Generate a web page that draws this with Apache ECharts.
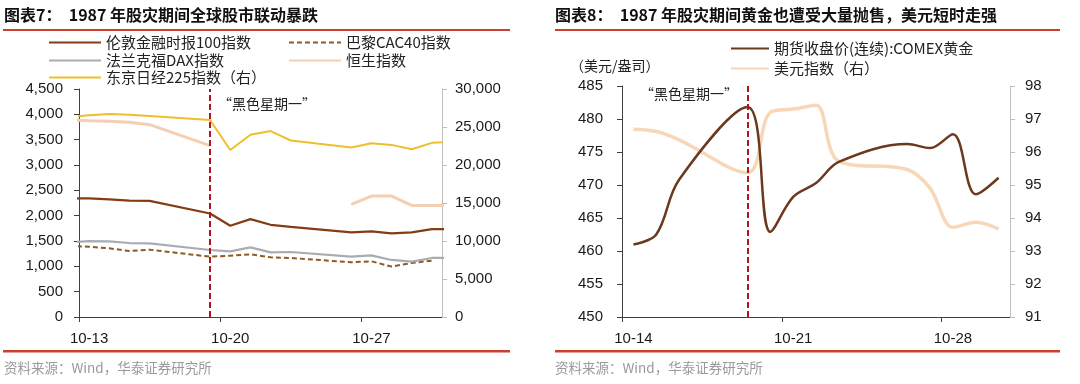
<!DOCTYPE html>
<html>
<head>
<meta charset="utf-8">
<script src="https://cdn.jsdelivr.net/npm/echarts@6/dist/echarts.min.js"></script>
<style>
html,body{margin:0;padding:0;background:#fff;}
#c{width:1080px;height:384px;}
</style>
</head>
<body>
<div id="c"></div>
<script>
// ---------- Data: chart 7 (global stock indices) ----------
const dates7 = ['10-12','10-13','10-14','10-15','10-16','10-19','10-20','10-21','10-22','10-23','10-26','10-27','10-28','10-29','10-30','11-02'];
const ftse100 = [2343, 2343, 2323, 2297, 2291, 2042, 1800, 1931, 1820, 1780, 1669, 1689, 1649, 1669, 1734, 1734];
const cac40   = [1400, 1388, 1355, 1302, 1329, 1191, 1211, 1237, 1178, 1165, 1080, 1100, 995, 1067, 1113, null];
const dax     = [1473, 1499, 1492, 1460, 1453, 1322, 1296, 1374, 1276, 1283, 1191, 1217, 1126, 1093, 1165, 1165];
const hangSeng= [3889, 3875, 3862, 3842, 3796, 3384, null, null, null, null, 2221, 2387, 2387, 2201, 2201, 2201];
const nikkei  = [26279, 26545, 26722, 26610, 26456, 25924, 21982, 23975, 24463, 23222, 22292, 22868, 22646, 22070, 22912, 23300];
const xLabels7 = ['10-13','10-20','10-27'];
const xRange7 = ['10-13','10-30'];

// ---------- Data: chart 8 (gold & USD index) ----------
const dates8 = ['10-14','10-15','10-16','10-19','10-20','10-21','10-22','10-23','10-26','10-27','10-28','10-29','10-30'];
const goldFutures = [461.0, 462.5, 470.8, 481.8, 462.9, 468.2, 470.3, 473.5, 476.2, 475.6, 477.7, 468.6, 471.1];
const usdIndex    = [96.69, 96.62, 96.37, 95.37, 97.2, 97.3, 97.42, 95.72, 95.47, 94.9, 93.72, 93.87, 93.67];
const xLabels8 = ['10-14','10-21','10-28'];
const xRange8 = ['10-14','10-30'];

const blackMonday = '10-19';

// names
const N = {
  ftse: '伦敦金融时报100指数', cac: '巴黎CAC40指数', dax: '法兰克福DAX指数',
  hsi: '恒生指数', nk: '东京日经225指数（右）',
  gold: '期货收盘价(连续):COMEX黄金', usd: '美元指数（右）'
};

// day number (October-based) from "MM-DD"
function dayNum(s){ const p = s.split('-'); return (+p[0] - 10) * 31 + (+p[1]); }
function pairs(dates, vals){ return dates.map((d,i)=>[dayNum(d), vals[i]]); }
function thousands(v){ return String(v).replace(/\B(?=(\d{3})+(?!\d))/g, ','); }

const CJK = 'Noto Sans CJK SC';
const LAT = 'Liberation Sans';
const axisDark = '#404040';
const axisLight = '#BFBFBF';
const red = '#C8412F';
const markRed = '#B0161E';

function labelMap(list){ const m = {}; list.forEach(l => m[dayNum(l)] = l); return m; }
const lm7 = labelMap(xLabels7), lm8 = labelMap(xLabels8);

function xAxisDef(grid, range, labels, lm){
  return {
    type: 'value', gridIndex: grid,
    min: dayNum(range[0]) - 0.5, max: dayNum(range[1]) + 0.5,
    axisLine: { show: true, onZero: false, lineStyle: { color: axisDark, width: 1 } },
    axisTick: { show: true, length: 5, lineStyle: { color: axisDark }, customValues: labels.map(l => dayNum(l) - 0.5) },
    axisLabel: { customValues: labels.map(dayNum), formatter: v => lm[v] || '', margin: 14,
      fontFamily: LAT, fontSize: 15, color: '#1a1a1a' },
    splitLine: { show: false }
  };
}
function yAxisDef(grid, pos, min, max, interval, lineColor, margin, fmt){
  return {
    type: 'value', gridIndex: grid, position: pos, min, max, interval,
    axisLine: { show: true, lineStyle: { color: lineColor, width: 1 } },
    axisTick: { show: true, length: 5, lineStyle: { color: lineColor } },
    axisLabel: { margin, fontFamily: LAT, fontSize: 15, color: '#1a1a1a', formatter: fmt },
    splitLine: { show: false }
  };
}
function legendAt(name, left, top, w){
  return { data: [name], left, top, padding: 0, itemWidth: w, itemHeight: 14,
    itemStyle: { opacity: 0, borderWidth: 0 },
    textStyle: { fontFamily: CJK, fontSize: 15, color: '#222' }, selectedMode: false };
}
function markLine(){
  return { silent: true, symbol: 'none', animation: false,
    lineStyle: { type: [6, 3], color: markRed, width: 2 },
    label: { show: false }, data: [{ xAxis: dayNum(blackMonday) }] };
}

const option = {
  animation: false,
  backgroundColor: '#ffffff',
  title: [
    { text: '图表7：  1987 年股灾期间全球股市联动暴跌', left: 4, top: 7, padding: 0,
      textStyle: { fontFamily: CJK, fontSize: 16, fontWeight: 'bold', color: '#111' } },
    { text: '图表8：  1987 年股灾期间黄金也遭受大量抛售，美元短时走强', left: 555, top: 7, padding: 0,
      textStyle: { fontFamily: CJK, fontSize: 16, fontWeight: 'bold', color: '#111' } },
    { text: '资料来源：Wind，华泰证券研究所', left: 4, top: 361, padding: 0,
      textStyle: { fontFamily: CJK, fontSize: 13.5, fontWeight: 'normal', color: '#9a9a9a' } },
    { text: '资料来源：Wind，华泰证券研究所', left: 555, top: 361, padding: 0,
      textStyle: { fontFamily: CJK, fontSize: 13.5, fontWeight: 'normal', color: '#9a9a9a' } }
  ],
  legend: [
    legendAt(N.ftse, 48, 35, 52),
    legendAt(N.cac, 288, 35, 52),
    legendAt(N.dax, 48, 53, 52),
    legendAt(N.hsi, 288, 53, 52),
    legendAt(N.nk, 48, 70, 52),
    legendAt(N.gold, 730, 41, 38),
    legendAt(N.usd, 730, 61, 38)
  ],
  grid: [
    { left: 79, top: 89, width: 363, height: 228 },
    { left: 622, top: 86, width: 388, height: 231 }
  ],
  xAxis: [
    xAxisDef(0, xRange7, xLabels7, lm7),
    xAxisDef(1, xRange8, xLabels8, lm8)
  ],
  yAxis: [
    yAxisDef(0, 'left', 0, 4500, 500, axisDark, 16, thousands),
    yAxisDef(0, 'right', 0, 30000, 5000, axisLight, 13, thousands),
    yAxisDef(1, 'left', 450, 485, 5, axisDark, 19),
    yAxisDef(1, 'right', 91, 98, 1, axisLight, 15)
  ],
  graphic: [
    { type: 'rect', shape: { x: 3, y: 29, width: 507, height: 2 }, style: { fill: red }, silent: true },
    { type: 'rect', shape: { x: 555, y: 29, width: 505, height: 2 }, style: { fill: red }, silent: true },
    { type: 'rect', shape: { x: 3, y: 350, width: 507, height: 2.5 }, style: { fill: red }, silent: true },
    { type: 'rect', shape: { x: 555, y: 350, width: 505, height: 2.5 }, style: { fill: red }, silent: true },
    { type: 'text', x: 218, y: 97, silent: true,
      style: { text: '“黑色星期一”', fontFamily: CJK, fontSize: 14, fill: '#222' } },
    { type: 'text', x: 640, y: 87, silent: true,
      style: { text: '“黑色星期一”', fontFamily: CJK, fontSize: 14, fill: '#222' } },
    { type: 'text', x: 570, y: 59, silent: true,
      style: { text: '（美元/盎司）', fontFamily: CJK, fontSize: 14, fill: '#222' } }
  ],
  series: [
    { name: N.cac, type: 'line', xAxisIndex: 0, yAxisIndex: 0, symbol: 'none',
      lineStyle: { color: '#8E5A26', width: 2, type: [5, 3] }, itemStyle: { color: '#8E5A26' },
      data: pairs(dates7, cac40) },
    { name: N.dax, type: 'line', xAxisIndex: 0, yAxisIndex: 0, symbol: 'none',
      lineStyle: { color: '#A9ADB3', width: 2.2 }, itemStyle: { color: '#A9ADB3' },
      data: pairs(dates7, dax) },
    { name: N.hsi, type: 'line', xAxisIndex: 0, yAxisIndex: 0, symbol: 'none',
      lineStyle: { color: '#F3CFB3', width: 3 }, itemStyle: { color: '#F3CFB3' },
      data: pairs(dates7, hangSeng) },
    { name: N.ftse, type: 'line', xAxisIndex: 0, yAxisIndex: 0, symbol: 'none',
      lineStyle: { color: '#843C14', width: 2.2 }, itemStyle: { color: '#843C14' },
      data: pairs(dates7, ftse100), markLine: markLine() },
    { name: N.nk, type: 'line', xAxisIndex: 0, yAxisIndex: 1, symbol: 'none',
      lineStyle: { color: '#EEBF2C', width: 2 }, itemStyle: { color: '#EEBF2C' },
      data: pairs(dates7, nikkei) },
    { name: N.usd, type: 'line', xAxisIndex: 1, yAxisIndex: 3, symbol: 'none', smooth: 0.35,
      lineStyle: { color: '#F8D7B8', width: 3.5 }, itemStyle: { color: '#F8D7B8' },
      data: pairs(dates8, usdIndex) },
    { name: N.gold, type: 'line', xAxisIndex: 1, yAxisIndex: 2, symbol: 'none', smooth: 0.35,
      lineStyle: { color: '#6B3A1E', width: 2.5 }, itemStyle: { color: '#6B3A1E' },
      data: pairs(dates8, goldFutures), markLine: markLine() }
  ]
};

const chart = echarts.init(document.getElementById('c'), null, { renderer: 'canvas' });
chart.setOption(option);
</script>
</body>
</html>
